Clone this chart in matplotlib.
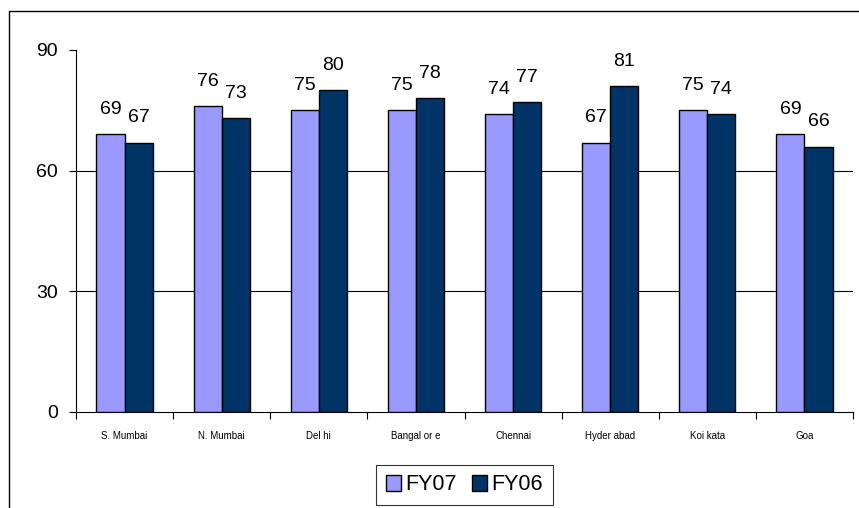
import numpy as np
import matplotlib.pyplot as plt
from matplotlib.patches import Rectangle

plt.rcParams["font.family"] = ["Liberation Sans", "DejaVu Sans"]

cities = ["S. Mumbai", "N. Mumbai", "Del hi", "Bangal or e", "Chennai",
          "Hyder abad", "Koi kata", "Goa"]
fy07 = [69, 76, 75, 75, 74, 67, 75, 69]
fy06 = [67, 73, 80, 78, 77, 81, 74, 66]
y_ticks = [0, 30, 60, 90]

FY07_COLOR = "#9999FF"
FY06_COLOR = "#003366"


def main():
    fig = plt.figure(figsize=(8.59, 5.08), dpi=100)
    ax = fig.add_axes([76 / 859, 1 - 412 / 508, 777 / 859, 362 / 508])

    # outer chart frame (cut off at right and bottom like the original)
    fig.patches.append(Rectangle((9 / 859, -0.2), 2, 1 - 11 / 508 + 0.2,
                                 transform=fig.transFigure, fill=False,
                                 edgecolor="black", linewidth=1.0))

    x = np.arange(len(cities))
    w = 0.29
    b1 = ax.bar(x - w / 2, fy07, w, color=FY07_COLOR, edgecolor="black",
                linewidth=1.0, label="FY07", zorder=3)
    b2 = ax.bar(x + w / 2, fy06, w, color=FY06_COLOR, edgecolor="black",
                linewidth=1.0, label="FY06", zorder=3)

    for bars, vals in ((b1, fy07), (b2, fy06)):
        for bar, v in zip(bars, vals):
            ax.annotate(str(v), (bar.get_x() + bar.get_width() / 2, v),
                        xytext=(0, 12), textcoords="offset points",
                        ha="center", va="bottom", fontsize=14)

    for g in (30, 60):
        ax.axhline(g, color="black", linewidth=0.8, zorder=1)

    ax.set_ylim(0, 90)
    ax.set_xlim(-0.5, len(cities) - 0.5)
    ax.set_yticks(y_ticks)
    ax.tick_params(axis="y", labelsize=14, length=5, width=0.8, pad=8)

    ax.set_xticks(np.arange(len(cities) + 1) - 0.5)
    ax.set_xticklabels([])
    ax.tick_params(axis="x", length=5, width=0.8)
    ax.set_xticks(x, minor=True)
    ax.set_xticklabels(cities, minor=True, fontsize=7)
    ax.tick_params(axis="x", which="minor", length=0, pad=14)

    ax.spines["top"].set_visible(False)
    ax.spines["right"].set_visible(False)
    ax.spines["left"].set_linewidth(0.8)
    ax.spines["bottom"].set_linewidth(0.8)

    leg = fig.legend(loc="center", bbox_to_anchor=(464.5 / 859, 1 - 485 / 508),
                     ncol=2, fontsize=15.5, frameon=True, fancybox=False,
                     handlelength=0.7, handleheight=0.7, handletextpad=0.2,
                     columnspacing=0.7, borderpad=0.45)
    leg.get_frame().set_edgecolor("black")
    leg.get_frame().set_linewidth(0.8)

    fig.savefig("out.png", dpi=100)
    plt.close(fig)


if __name__ == "__main__":
    main()
